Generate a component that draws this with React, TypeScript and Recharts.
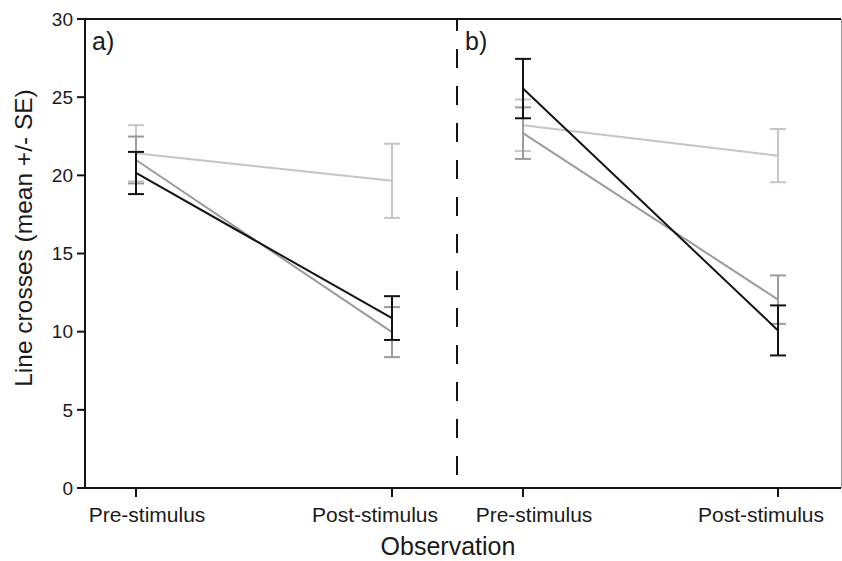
import { LineChart, Line, XAxis, YAxis, ErrorBar, ReferenceLine } from "recharts";

const categories = ["Pre-stimulus", "Post-stimulus"];
const yTicks = [0, 5, 10, 15, 20, 25, 30];

// panel a) means and SE
const aBlack = [20.15, 10.87];
const aBlackSe = [1.35, 1.4];
const aGray = [20.98, 9.97];
const aGraySe = [1.5, 1.6];
const aLight = [21.41, 19.65];
const aLightSe = [1.8, 2.37];

// panel b) means and SE
const bBlack = [25.55, 10.08];
const bBlackSe = [1.9, 1.6];
const bGray = [22.7, 12.05];
const bGraySe = [1.65, 1.55];
const bLight = [23.2, 21.26];
const bLightSe = [1.65, 1.7];

const BLACK = "#141414";
const GRAY = "#9b9b9b";
const LIGHT = "#cbc2c2";
const FONT = "'Liberation Sans', Arial, sans-serif";

const build = (black: number[], blackSe: number[], gray: number[], graySe: number[], light: number[], lightSe: number[]) =>
  categories.map((name, i) => ({
    name,
    black: black[i],
    blackErr: blackSe[i],
    gray: gray[i],
    grayErr: graySe[i],
    light: light[i],
    lightErr: lightSe[i],
  }));

const panelA = build(aBlack, aBlackSe, aGray, aGraySe, aLight, aLightSe);
const panelB = build(bBlack, bBlackSe, bGray, bGraySe, bLight, bLightSe);

const XTick = ({ x, y, payload, index }: any) => (
  <text
    x={x + (index === 0 ? 11 : -17)}
    y={y}
    dy={23}
    textAnchor="middle"
    fontSize={21}
    fontFamily={FONT}
    fill="#1a1a1a"
  >
    {payload.value}
  </text>
);

function Series() {
  return [
    <Line key="l" dataKey="light" stroke={LIGHT} strokeWidth={2} dot={false} isAnimationActive={false}>
      <ErrorBar dataKey="lightErr" direction="y" width={8} stroke={LIGHT} strokeWidth={2} />
    </Line>,
    <Line key="g" dataKey="gray" stroke={GRAY} strokeWidth={2} dot={false} isAnimationActive={false}>
      <ErrorBar dataKey="grayErr" direction="y" width={8} stroke={GRAY} strokeWidth={2} />
    </Line>,
    <Line key="b" dataKey="black" stroke={BLACK} strokeWidth={2} dot={false} isAnimationActive={false}>
      <ErrorBar dataKey="blackErr" direction="y" width={8} stroke={BLACK} strokeWidth={2} />
    </Line>,
  ];
}

export default function App() {
  const W = 842;
  const H = 561;
  return (
    <div style={{ position: "absolute", left: 0, top: 0, width: W, height: H, background: "#fff" }}>
      <div style={{ position: "absolute", left: 0, top: 0 }}>
        <LineChart width={W} height={H} data={panelA} margin={{ top: 19, right: 385, bottom: 0, left: 0 }}>
          <XAxis
            dataKey="name"
            height={73}
            padding={{ left: 51, right: 65 }}
            axisLine={{ stroke: BLACK, strokeWidth: 2 }}
            tickLine={{ stroke: BLACK, strokeWidth: 2 }}
            tickSize={9}
            tick={<XTick />}
          />
          <YAxis
            width={85}
            domain={[0, 30]}
            ticks={yTicks}
            axisLine={{ stroke: BLACK, strokeWidth: 2 }}
            tickLine={{ stroke: BLACK, strokeWidth: 2 }}
            tickSize={8}
            tickMargin={4}
            tick={{ fontSize: 19, fill: "#1a1a1a", fontFamily: FONT }}
          />
          <ReferenceLine y={30} stroke={BLACK} strokeWidth={2} />
          {Series()}
        </LineChart>
      </div>
      <div style={{ position: "absolute", left: 0, top: 0 }}>
        <LineChart width={W} height={H} data={panelB} margin={{ top: 19, right: 1, bottom: 0, left: 456 }}>
          <XAxis
            dataKey="name"
            height={73}
            padding={{ left: 66, right: 63 }}
            axisLine={{ stroke: BLACK, strokeWidth: 2 }}
            tickLine={{ stroke: BLACK, strokeWidth: 2 }}
            tickSize={9}
            tick={<XTick />}
          />
          <YAxis
            width={1}
            domain={[0, 30]}
            ticks={yTicks}
            axisLine={{ stroke: BLACK, strokeWidth: 2, strokeDasharray: "19 18", strokeDashoffset: 7 }}
            tickLine={false}
            tick={false}
          />
          <ReferenceLine y={30} stroke={BLACK} strokeWidth={2} />
          {Series()}
        </LineChart>
      </div>
      <svg
        width={W}
        height={H}
        style={{ position: "absolute", left: 0, top: 0, pointerEvents: "none" }}
        fontFamily={FONT}
        fill="#1a1a1a"
      >
        {/* thin right edge of the frame */}
        <line x1={841.5} y1={19} x2={841.5} y2={488} stroke="#999" strokeWidth={1} />
        <text x={92} y={50} fontSize={25}>a)</text>
        <text x={465} y={50} fontSize={25}>b)</text>
        <text x={448} y={555} fontSize={25} textAnchor="middle">Observation</text>
        <text x={32} y={238} fontSize={24.5} textAnchor="middle" transform="rotate(-90 32 238)">
          Line crosses (mean +/- SE)
        </text>
      </svg>
    </div>
  );
}
